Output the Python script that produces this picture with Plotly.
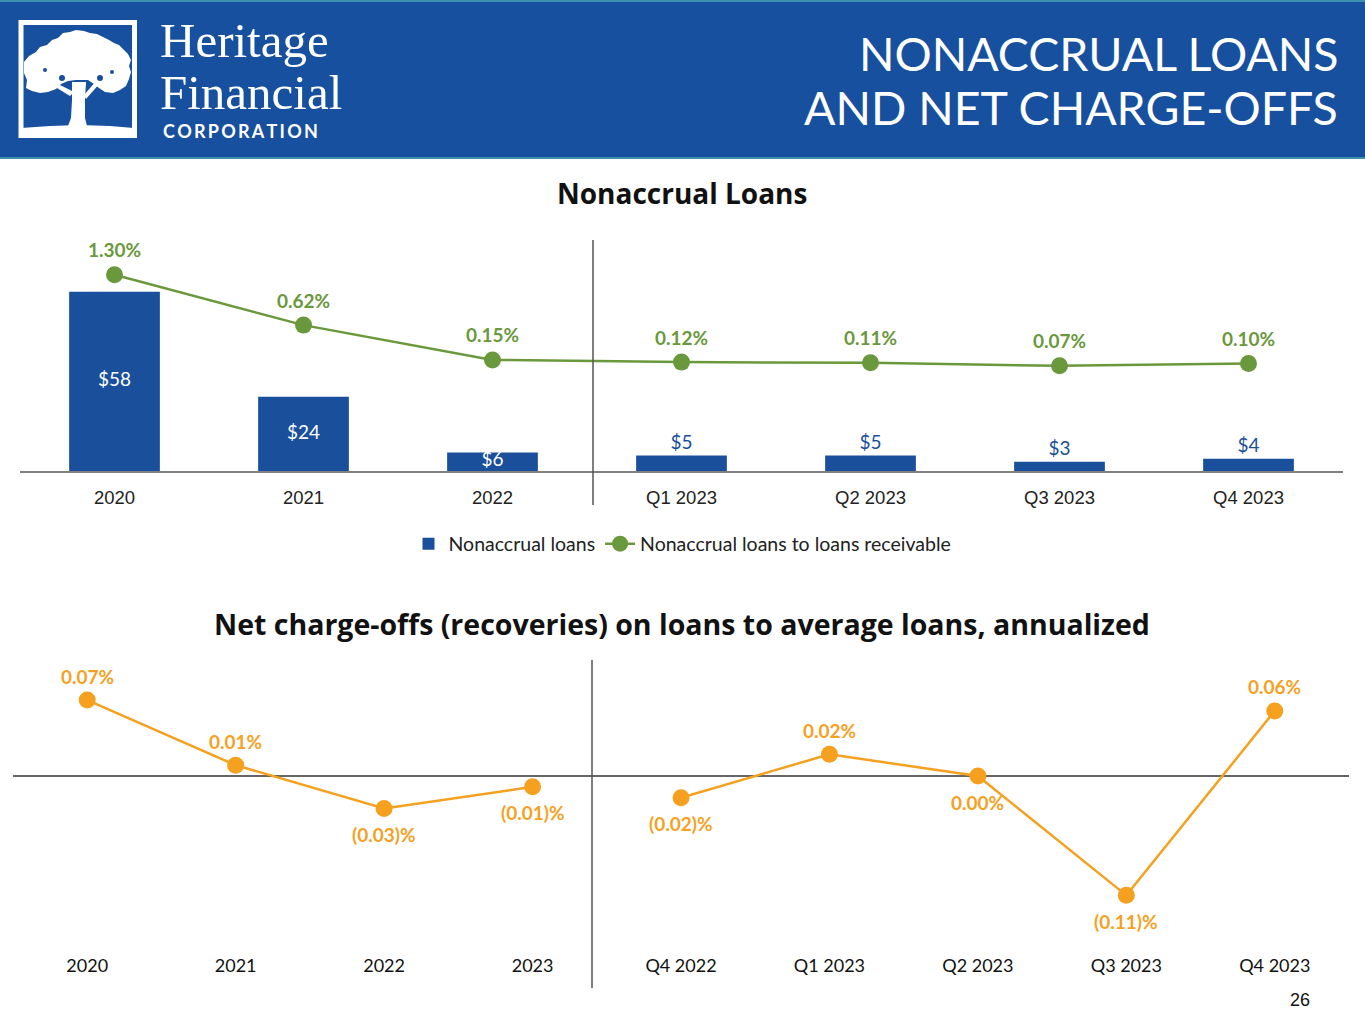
import plotly.graph_objects as go

# ---------------- data ----------------
top_categories = ["2020", "2021", "2022", "Q1 2023", "Q2 2023", "Q3 2023", "Q4 2023"]
nonaccrual_loans = [58, 24, 6, 5, 5, 3, 4]  # $ millions
nonaccrual_ratio = [1.30, 0.62, 0.15, 0.12, 0.11, 0.07, 0.10]  # %

annual_categories = ["2020", "2021", "2022", "2023"]
annual_nco = [0.07, 0.01, -0.03, -0.01]  # %
quarter_categories = ["Q4 2022", "Q1 2023", "Q2 2023", "Q3 2023", "Q4 2023"]
quarter_nco = [-0.02, 0.02, 0.00, -0.11, 0.06]  # %

W, H = 1365, 1024
BLUE = "#1A4F9C"
HEADER = "#17509E"
GREEN = "#6A983C"
ORANGE = "#F5A11F"
AXIS = "#808080"


def px(x):
    return x / W


def py(y):
    return 1 - y / H


def pct_label(v):
    if v < 0:
        return "({:.2f})%".format(abs(v))
    return "{:.2f}%".format(v)


fig = go.Figure()

# ---------- top chart: bars + ratio line ----------
inside = [v >= 6 for v in nonaccrual_loans]
fig.add_trace(go.Bar(
    x=top_categories, y=nonaccrual_loans, name="Nonaccrual loans",
    marker=dict(color=BLUE, line=dict(width=0)), width=0.48,
    text=["" if i else "${}".format(v) for v, i in zip(nonaccrual_loans, inside)],
    textposition="outside", cliponaxis=False,
    textfont=dict(family="Lato", size=19, color=BLUE),
    xaxis="x", yaxis="y", hoverinfo="skip",
))
fig.add_trace(go.Scatter(
    x=[c for c, i in zip(top_categories, inside) if i],
    y=[v / 2 for v, i in zip(nonaccrual_loans, inside) if i],
    text=["${}".format(v) for v, i in zip(nonaccrual_loans, inside) if i],
    mode="text", textfont=dict(family="Lato", size=19, color="white"),
    showlegend=False, xaxis="x", yaxis="y", cliponaxis=False, hoverinfo="skip",
))
fig.add_trace(go.Scatter(
    x=top_categories, y=nonaccrual_ratio, name="Nonaccrual loans to loans receivable",
    mode="lines+markers", line=dict(color=GREEN, width=2.5),
    marker=dict(color=GREEN, size=17), xaxis="x", yaxis="y2", cliponaxis=False,
))

annotations = []
for i, v in enumerate(nonaccrual_ratio):
    annotations.append(dict(x=i, y=v, xref="x", yref="y2", text="<b>" + pct_label(v) + "</b>",
                            showarrow=False, yshift=25,
                            font=dict(family="Lato", size=19, color=GREEN)))

# ---------- bottom chart ----------
fig.add_trace(go.Scatter(
    x=annual_categories, y=annual_nco, mode="lines+markers",
    line=dict(color=ORANGE, width=2.5), marker=dict(color=ORANGE, size=17),
    showlegend=False, xaxis="x2", yaxis="y3", cliponaxis=False,
))
fig.add_trace(go.Scatter(
    x=quarter_categories, y=quarter_nco, mode="lines+markers",
    line=dict(color=ORANGE, width=2.5), marker=dict(color=ORANGE, size=17),
    showlegend=False, xaxis="x2", yaxis="y3", cliponaxis=False,
))
all_nco = annual_nco + quarter_nco
for i, v in enumerate(all_nco):
    annotations.append(dict(x=i, y=v, xref="x2", yref="y3", text="<b>" + pct_label(v) + "</b>",
                            showarrow=False, yshift=(24 if v > 0 else -26),
                            font=dict(family="Lato", size=19, color=ORANGE)))

# ---------- header / titles ----------
annotations += [
    dict(x=px(1340), y=py(53), xref="paper", yref="paper", xanchor="right", yanchor="middle",
         text="NONACCRUAL LOANS", showarrow=False,
         font=dict(family="Lato", size=46.5, color="white")),
    dict(x=px(1340), y=py(107), xref="paper", yref="paper", xanchor="right", yanchor="middle",
         text="AND NET CHARGE-OFFS", showarrow=False,
         font=dict(family="Lato", size=46.5, color="white")),
    dict(x=px(158), y=py(40), xref="paper", yref="paper", xanchor="left", yanchor="middle",
         text="Heritage", showarrow=False,
         font=dict(family="Liberation Serif", size=49, color="white")),
    dict(x=px(158), y=py(92), xref="paper", yref="paper", xanchor="left", yanchor="middle",
         text="Financial", showarrow=False,
         font=dict(family="Liberation Serif", size=49, color="white")),
    dict(x=px(161), y=py(131), xref="paper", yref="paper", xanchor="left", yanchor="middle",
         text="<b>" + "\u2009".join("CORPORATION") + "</b>", showarrow=False,
         font=dict(family="Lato", size=18, color="white")),
    dict(x=px(682), y=py(193), xref="paper", yref="paper", xanchor="center", yanchor="middle",
         text="<b>Nonaccrual Loans</b>", showarrow=False,
         font=dict(family="Open Sans", size=28, color="#111111")),
    dict(x=px(682), y=py(624), xref="paper", yref="paper", xanchor="center", yanchor="middle",
         text="<b>Net charge-offs (recoveries) on loans to average loans, annualized</b>",
         showarrow=False, font=dict(family="Open Sans", size=28.5, color="#111111")),
    dict(x=px(1312), y=py(1000), xref="paper", yref="paper", xanchor="right", yanchor="middle",
         text="26", showarrow=False,
         font=dict(family="Liberation Sans", size=18, color="#111111")),
]

shapes = [
    dict(type="rect", xref="paper", yref="paper", x0=0, x1=1, y0=py(158), y1=1,
         fillcolor=HEADER, line=dict(width=0), layer="below"),
    dict(type="line", xref="paper", yref="paper", x0=0, x1=1, y0=py(158), y1=py(158),
         line=dict(color="#3C8FAE", width=2)),
    dict(type="line", xref="paper", yref="paper", x0=0, x1=1, y0=py(1), y1=py(1),
         line=dict(color="#3C8FAE", width=2)),
    # logo box
    dict(type="rect", xref="paper", yref="paper", x0=px(21), x1=px(134.5), y0=py(135.5), y1=py(22.5),
         line=dict(color="white", width=5), fillcolor="rgba(0,0,0,0)"),
    # separators
    dict(type="line", xref="paper", yref="paper", x0=px(593), x1=px(593), y0=py(505), y1=py(240),
         line=dict(color="#555555", width=1.5)),
    dict(type="line", xref="paper", yref="paper", x0=px(592), x1=px(592), y0=py(988), y1=py(660),
         line=dict(color="#555555", width=1.5)),
]


def poly(points):
    return "M " + " L ".join("{:.5f} {:.5f}".format(px(a), py(b)) for a, b in points) + " Z"


canopy = [(24, 62), (29, 56), (36, 52), (40, 47), (47, 45), (52, 40), (58, 38), (63, 33),
          (70, 32), (76, 30), (84, 31), (90, 33), (97, 34), (103, 37), (109, 40), (114, 43),
          (119, 45), (124, 50), (128, 54), (131, 60), (129, 66), (131, 72), (129, 79),
          (126, 86), (120, 90), (113, 93), (105, 92), (99, 88), (94, 84), (88, 80),
          (82, 80), (76, 80), (68, 81), (61, 84), (56, 89), (48, 92), (40, 93), (32, 91),
          (26, 88), (27, 80), (24, 73)]
trunk = [(72, 82), (86, 82), (85, 100), (85, 118), (87, 126), (93, 131), (62, 131),
         (68, 126), (71, 118), (72, 100)]
left_branch = [(70, 96), (52, 85), (56, 83), (74, 92)]
right_branch = [(84, 95), (97, 80), (101, 82), (86, 99)]
ground = [(21, 128), (50, 126), (80, 125), (110, 126), (134, 128), (134, 135), (21, 135)]
for pts in (canopy, trunk, left_branch, right_branch, ground):
    shapes.append(dict(type="path", xref="paper", yref="paper", path=poly(pts),
                       fillcolor="white", line=dict(width=0)))
for cx, cy, r in [(62, 78, 3), (100, 78, 3), (45, 70, 2), (112, 72, 2)]:
    shapes.append(dict(type="circle", xref="paper", yref="paper",
                       x0=px(cx - r), x1=px(cx + r), y0=py(cy + r), y1=py(cy - r),
                       fillcolor=HEADER, line=dict(width=0)))

# ranges derived from pixel layout
top_y_bottom, top_y_top = 471, 240
bar_px_per_unit = 3.09
line_px_per_unit = 74.0
line_zero_px = 371
y1_max = (top_y_bottom - top_y_top) / bar_px_per_unit
y2_min = -(top_y_bottom - line_zero_px) / line_px_per_unit
y2_max = (line_zero_px - top_y_top) / line_px_per_unit

bot_y_bottom, bot_y_top = 945, 660
nco_zero_px = 776
nco_px_per_unit = 1085.0
y3_max = (nco_zero_px - bot_y_top) / nco_px_per_unit
y3_min = -(bot_y_bottom - nco_zero_px) / nco_px_per_unit

fig.update_layout(
    width=W, height=H, autosize=False,
    margin=dict(l=0, r=0, t=0, b=0),
    paper_bgcolor="white", plot_bgcolor="rgba(0,0,0,0)",
    barmode="overlay",
    showlegend=True,
    legend=dict(orientation="h", x=0.500, xanchor="center", y=py(544), yanchor="middle",
                font=dict(family="Lato", size=19.5, color="#222222"),
                itemwidth=30, tracegroupgap=0, bgcolor="rgba(0,0,0,0)"),
    xaxis=dict(domain=[px(20), px(1343)], type="category", range=[-0.5, 6.5],
               showline=True, linecolor=AXIS, linewidth=1.5, showgrid=False, zeroline=False,
               ticks="", ticklabelstandoff=9,
               tickfont=dict(family="Liberation Sans, Arial", size=18.5, color="#222222"),
               anchor="y", fixedrange=True),
    yaxis=dict(domain=[py(top_y_bottom), py(top_y_top)], range=[0, y1_max], visible=False,
               fixedrange=True),
    yaxis2=dict(domain=[py(top_y_bottom), py(top_y_top)], range=[y2_min, y2_max], visible=False,
                overlaying="y", side="right", fixedrange=True),
    xaxis2=dict(domain=[px(13), px(1349)], type="category", range=[-0.5, 8.5],
                categoryorder="array", categoryarray=annual_categories + quarter_categories,
                showline=False, showgrid=False, zeroline=False, ticks="", ticklabelstandoff=8,
                tickfont=dict(family="Lato", size=18, color="#111111"),
                anchor="y3", fixedrange=True),
    yaxis3=dict(domain=[py(bot_y_bottom), py(bot_y_top)], range=[y3_min, y3_max],
                showgrid=False, showticklabels=False, ticks="", showline=False,
                zeroline=True, zerolinecolor="#666666", zerolinewidth=1.5, fixedrange=True),
    annotations=annotations,
    shapes=shapes,
)

fig.write_html("out.html", config={"displayModeBar": False},
               post_script="document.body.style.margin='0px';")
